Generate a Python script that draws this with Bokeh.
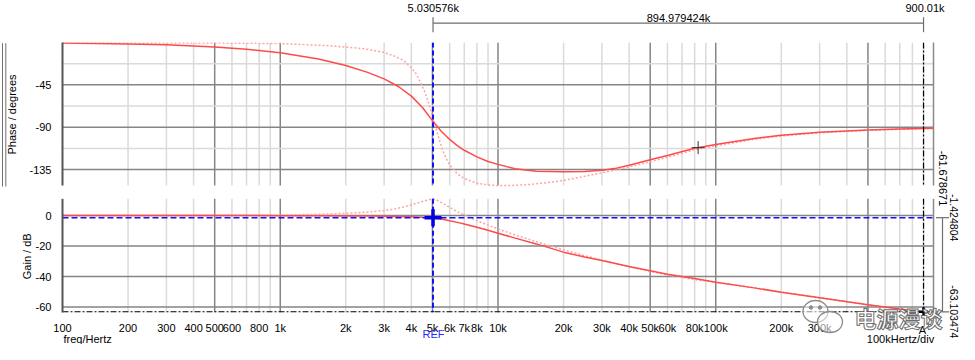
import math
from bokeh.plotting import figure
from bokeh.models import Range1d, FixedTicker
from bokeh.core.properties import value
from bokeh.embed import file_html
from bokeh.resources import INLINE

# ---------------- data ----------------
freq = [100, 200, 300, 500, 700, 1000, 1500, 2000, 2500, 3000, 3500, 4000, 4500,
        5000, 5500, 6000, 6500, 7000, 8000, 9000, 10000, 12000, 15000, 20000,
        25000, 30000, 35000, 40000, 50000, 60000, 80000, 100000, 150000, 200000,
        300000, 500000, 700000, 1000000]
phase_solid = [-0.5, -1.5, -2.5, -4.8, -7.2, -11, -17.5, -24.5, -31.5, -38.6, -47,
               -57, -69, -83, -94.5, -103, -109.5, -114.5, -121.5, -126.5, -129.5,
               -134.2, -136.8, -137.4, -137, -135.8, -133.5, -130.5, -124.5, -120,
               -112.4, -108.4, -102, -98.6, -95.3, -92.9, -91.9, -91.2]
gain_solid = [0, 0, 0, -0.05, -0.05, -0.1, -0.15, -0.25, -0.35, -0.5, -0.65, -0.85,
              -1.1, -1.4, -2.3, -3.4, -4.5, -5.6, -7.7, -9.7, -11.6, -14.8, -18.6,
              -24, -27.2, -29.5, -31.6, -33.4, -36.2, -38.5, -41.3, -43.7, -47.4,
              -50.2, -53.8, -58.5, -61.3, -64]

freq_d = [100, 500, 1000, 1700, 2400, 3000, 3400, 3700, 4000, 4200, 4400, 4600,
          4800, 5000, 5200, 5400, 5600, 5800, 6000, 6500, 7000, 8000, 9000, 10000,
          12000, 14000, 17000, 20000, 24000, 30000, 34000, 40000, 50000, 60000,
          80000, 100000, 150000, 200000, 300000, 500000, 700000, 1000000]
phase_dotted = [-0.2, -0.6, -1.1, -3.5, -6.5, -10.5, -15, -19.5, -27, -33, -42, -52,
                -64, -78, -92, -105, -116, -124, -130, -139.5, -144.5, -149.5,
                -151.3, -152, -151.8, -150.8, -148.8, -146.5, -143, -138.5, -135.8,
                -132.2, -126.8, -122, -114, -109.8, -103, -99.3, -96, -93.3, -92.2,
                -91.4]
gain_dotted = [0, 0.05, 0.25, 1.0, 2.0, 3.2, 4.4, 5.6, 7.0, 7.9, 8.8, 9.6, 10.3,
               10.9, 10.3, 9.2, 7.9, 6.6, 5.3, 2.5, 0.4, -3.4, -6.3, -8.8, -12.8,
               -15.8, -19.5, -22.4, -25.6, -29.3, -31.2, -33.7, -36.6, -39.0,
               -42.0, -43.6, -47.3, -50.1, -53.8, -58.5, -61.3, -64]

x_ticks = [100, 200, 300, 400, 500, 600, 800, 1000, 2000, 3000, 4000, 5000, 6000,
           7000, 8000, 10000, 20000, 30000, 40000, 50000, 60000, 80000, 100000,
           200000, 300000]
x_tick_text = ["100", "200", "300", "400", "500", "600", "800", "1k", "2k", "3k",
               "4k", "5k", "6k", "7k", "8k", "10k", "20k", "30k", "40k", "50k",
               "60k", "80k", "100k", "200k", "300k"]
grid_major_f = [500, 1000, 5000, 10000, 50000, 100000, 500000]
grid_minor_f = [200, 300, 400, 600, 700, 800, 900, 2000, 3000, 4000, 6000, 7000,
                8000, 9000, 20000, 30000, 40000, 60000, 70000, 80000, 90000,
                200000, 300000, 400000, 600000, 700000, 800000, 900000]
phase_ticks = [-45, -90, -135]
phase_minor = [-22.5, -67.5, -112.5]
gain_ticks = [0, -20, -40, -60]

ref_freq = 5030.576        # REF cursor
a_freq = 900010.0          # cursor A
ref_gain = -1.424804
a_gain = -63.103474
ref_freq_text = "5.030576k"
a_freq_text = "900.01k"
delta_freq_text = "894.979424k"
delta_gain_text = "-61.678671"
ref_gain_text = "-1.424804"
a_gain_text = "-63.103474"
marker_f, marker_phase = 83000, -111.7

# ---------------- layout (pixels) ----------------
W, H = 959, 344
BL, BR, BT, BB = 62, 26, 42, 32
FW = W - BL - BR
FH = H - BT - BB
F0, F1 = 100, 1e6
DEC = FW / math.log10(F1 / F0)
DEG_PX = 42.35 / 45.0
DB_PX = 1.527
GAIN0_Y = 215
PH_BOTTOM = -152.0
G_TOP = 10.9

ph_end = 0.0
ph_start = -FH / DEG_PX
g_end = (GAIN0_Y - BT) / DB_PX
g_start = -(BT + FH - GAIN0_Y) / DB_PX


def px_x(cx):
    return F0 * 10 ** ((cx - BL) / DEC)


def px_y(cy):
    return -(cy - BT) / DEG_PX


def gy(g):
    return GAIN0_Y - g * DB_PX


def g2p(g):
    return px_y(gy(g))


FONT = "Liberation Sans"
p = figure(width=W, height=H, x_axis_type="log", output_backend="svg",
           toolbar_location=None, x_range=Range1d(F0, F1),
           y_range=Range1d(ph_start, ph_end),
           min_border_left=BL, min_border_right=BR, min_border_top=BT,
           min_border_bottom=BB)
p.extra_y_ranges = {"gain": Range1d(g_start, g_end)}
p.outline_line_color = None
p.xgrid.visible = False
p.ygrid.visible = False

p.xaxis.ticker = FixedTicker(ticks=x_ticks)
p.xaxis.major_label_overrides = {f: t for f, t in zip(x_ticks, x_tick_text)}
p.yaxis.ticker = FixedTicker(ticks=phase_ticks + [g2p(g) for g in gain_ticks])
ov = {t: str(t) for t in phase_ticks}
ov.update({g2p(g): str(g) for g in gain_ticks})
p.yaxis.major_label_overrides = ov
for ax in (p.xaxis, p.yaxis):
    ax.axis_line_color = None
    ax.major_tick_line_color = None
    ax.minor_tick_line_color = None
    ax.major_label_text_font = FONT
    ax.major_label_text_font_size = "11px"
    ax.major_label_text_color = "black"
p.xaxis.major_label_standoff = 3
p.yaxis.major_label_standoff = 5

# grid, per panel
MAJ, MIN = "#858585", "#dadada"
for flist, col in ((grid_minor_f, MIN), (grid_major_f, MAJ)):
    p.segment(x0=flist, x1=flist, y0=[0] * len(flist), y1=[PH_BOTTOM] * len(flist),
              line_color=col, line_width=1.5)
    p.segment(x0=flist, x1=flist, y0=[G_TOP] * len(flist), y1=[g_start] * len(flist),
              line_color=col, line_width=1.5, y_range_name="gain")
p.segment(x0=[F0] * 3, x1=[F1] * 3, y0=phase_minor, y1=phase_minor,
          line_color=MIN, line_width=1.5)
p.segment(x0=[F0] * 3, x1=[F1] * 3, y0=phase_ticks, y1=phase_ticks,
          line_color=MAJ, line_width=1.5)
p.segment(x0=[F0] * 4, x1=[F1] * 4, y0=gain_ticks, y1=gain_ticks,
          line_color=MAJ, line_width=1.5, y_range_name="gain")

# curves
RED, PINK = "#ff4a4a", "#ffa3a3"
p.line(freq_d, phase_dotted, line_color=PINK, line_width=1.5, line_dash="2 2")
p.line(freq, phase_solid, line_color=RED, line_width=1.5)
p.line(freq_d, gain_dotted, line_color=PINK, line_width=1.5, line_dash="2 2",
       y_range_name="gain")
p.line(freq, gain_solid, line_color=RED, line_width=1.5, y_range_name="gain")

# cursors
BLUE = "#1010ff"
p.segment(x0=[ref_freq], x1=[ref_freq], y0=[0], y1=[PH_BOTTOM], line_color=BLUE,
          line_width=2, line_dash="5 3")
p.segment(x0=[ref_freq], x1=[ref_freq], y0=[G_TOP], y1=[g_start], line_color=BLUE,
          line_width=2, line_dash="5 3", y_range_name="gain")
p.segment(x0=[F0], x1=[F1], y0=[ref_gain], y1=[ref_gain], line_color=BLUE,
          line_width=1.5, line_dash="6 3", y_range_name="gain")
p.segment(x0=[a_freq], x1=[a_freq], y0=[0], y1=[PH_BOTTOM], line_color="black",
          line_width=1.2, line_dash="6 2 2 2")
p.segment(x0=[a_freq], x1=[a_freq], y0=[G_TOP], y1=[g_start], line_color="black",
          line_width=1.2, line_dash="6 2 2 2", y_range_name="gain")
p.segment(x0=[F0], x1=[F1], y0=[a_gain], y1=[a_gain], line_color="black",
          line_width=1.2, line_dash="6 2 2 2", y_range_name="gain")
p.scatter([ref_freq], [ref_gain], marker="cross", size=17, line_width=3.5,
          line_color="#0000e0", y_range_name="gain")
p.scatter([marker_f], [marker_phase], marker="cross", size=13, line_width=1,
          line_color="#333333")
p.scatter([a_freq], [a_gain], marker="cross", size=9, line_width=2.5,
          line_color="black", y_range_name="gain", level="overlay")

# ---------- elements outside the frame (overlay level is not clipped) ----------
GRAY = "#6e6e6e"


def oseg(x0, x1, y0, y1, color=GRAY, width=1.2, rn="default"):
    p.segment(x0=[x0], x1=[x1], y0=[y0], y1=[y1], line_color=color,
              line_width=width, y_range_name=rn, level="overlay")


def otext(cx, cy, txt, size="11px", color="black", align="center", angle=0.0,
          font=FONT, style="normal", **kw):
    p.text(x=[px_x(cx)], y=[px_y(cy)], text=[txt], text_font=value(font),
           text_font_size=value(size), text_color=color, text_align=align,
           text_baseline="middle", angle=angle, text_font_style=style,
           level="overlay", **kw)


# frame edges
oseg(F0, F0, 0, PH_BOTTOM, "#555555", 2)
oseg(F0, F0, G_TOP, g_start, "#555555", 2, "gain")
oseg(F1, F1, 0, PH_BOTTOM, "#8a8a8a", 1.5)
oseg(F1, F1, G_TOP, g_start, "#8a8a8a", 1.5, "gain")

# top delta bracket
oseg(ref_freq, a_freq, px_y(22.7), px_y(22.7))
for fx in (ref_freq, a_freq):
    oseg(fx, fx, px_y(16.7), px_y(31.7))

# right delta bracket
xc = px_x(942)
oseg(xc, xc, ref_gain, a_gain, rn="gain")
for gv in (ref_gain, a_gain):
    oseg(px_x(935.5), px_x(948.5), gv, gv, rn="gain")

# left double lines
for cx in (2.0, 5.3):
    oseg(px_x(cx), px_x(cx), px_y(42.7), px_y(186), "#707070", 1)

otext(432.8, 7.8, ref_freq_text)
otext(678, 17, delta_freq_text)
otext(924.5, 7.8, a_freq_text)
otext(11.5, 114, "Phase / degrees", angle=math.pi / 2)
otext(26.7, 255.8, "Gain / dB", angle=math.pi / 2)
otext(942, 178, delta_gain_text, angle=-math.pi / 2)
otext(953.3, gy(ref_gain), ref_gain_text, size="10.5px", angle=-math.pi / 2)
otext(953.3, gy(a_gain), a_gain_text, size="10.5px", angle=-math.pi / 2)
otext(433, 333.5, "REF", color="#2a2aff")
otext(922, 329, "A")
otext(63, 338.5, "freq/Hertz", align="left")
otext(900, 338.5, "100kHertz/div")

# watermark (WeChat-style icon + text)
p.ellipse(x=[px_x(815)], y=[px_y(311)], width=25, height=22, width_units="screen",
          height_units="screen", fill_color="white", fill_alpha=0.55,
          line_color="#8c8c8c", line_width=1.3, level="overlay")
p.ellipse(x=[px_x(829.5)], y=[px_y(321.5)], width=25, height=21,
          width_units="screen", height_units="screen", fill_color="white",
          fill_alpha=0.55, line_color="#8c8c8c", line_width=1.3, level="overlay")
p.scatter(x=[px_x(810.5), px_x(819.5)], y=[px_y(307)] * 2, size=3.5,
          color="#8c8c8c", level="overlay")
p.scatter(x=[px_x(825.5), px_x(834)], y=[px_y(319)] * 2, size=3,
          color="#8c8c8c", level="overlay")
try:
    otext(898, 316.5, "电源漫谈", size="22px", color="white",
          font="Noto Sans CJK SC", style="bold", text_outline_color="#5a5a5a",
          text_alpha=0.9)
except Exception:
    otext(898, 316.5, "电源漫谈", size="22px", color="#8a8a8a",
          font="Noto Sans CJK SC", style="bold")

open("out.html", "w").write(file_html(p, INLINE))
